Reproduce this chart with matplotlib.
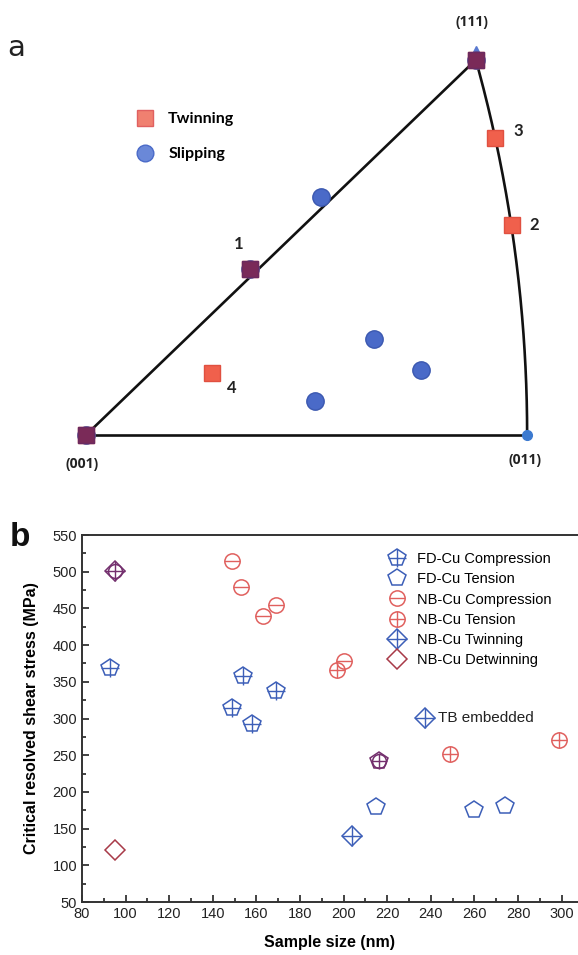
import matplotlib.pyplot as plt
import numpy as np
from matplotlib.ticker import MultipleLocator
from matplotlib.lines import Line2D

# ---- panel a: inverse pole figure (stereographic coords, (001) at origin)
slip_x = [0.000, 0.154, 0.221, 0.270, 0.315, 0.215, 0.366]
slip_y = [0.000, 0.162, 0.232, 0.094, 0.063, 0.033, 0.366]
twin_x = [0.000, 0.154, 0.400, 0.384, 0.118, 0.366]
twin_y = [0.000, 0.162, 0.205, 0.290, 0.060, 0.366]
twin_labels = ['', '1', '2', '3', '4', '']
corner_names = ['(001)', '(011)', '(111)']

# ---- panel b: CRSS vs sample size
fd_comp_x = [93, 149, 154, 158, 169]
fd_comp_y = [369, 314, 358, 293, 337]
fd_ten_x = [215, 260, 274]
fd_ten_y = [180, 175, 181]
nb_comp_x = [149, 153, 163, 169, 200]
nb_comp_y = [514, 479, 440, 454, 378]
nb_ten_x = [197, 249, 299]
nb_ten_y = [366, 251, 271]
nb_twin_x = [204]
nb_twin_y = [140]
nb_detwin_x = [95]
nb_detwin_y = [121]
# points where two series sit on top of each other (drawn purple)
twin_detwin_x = [95]
twin_detwin_y = [501]
comp_ten_x = [216]
comp_ten_y = [242]
tb_x, tb_y = 237.5, 301

BLUE = '#3d5fb8'
RED = '#e0605e'
DRED = '#a83a48'
PURPLE = '#74306e'

W, H = 578, 955
fig = plt.figure(figsize=(W / 100, H / 100), dpi=100)

# ================= panel a =================
axa = fig.add_axes([0, 1 - 480 / H, 1, 480 / H])
axa.set_xlim(-86 / 1065, 492 / 1065)
axa.set_ylim(-45 / 1025, 435 / 1025)
axa.axis('off')

t = np.linspace(0, 1, 200)
lx = t / (np.sqrt(2 * t ** 2 + 1) + 1)
n = np.sqrt(t ** 2 + 2)
cx, cy = 1 / (n + 1), t / (n + 1)
bx = t / (np.sqrt(t ** 2 + 1) + 1)
axa.plot(lx, lx, color='#111111', lw=1.9, zorder=1)
axa.plot(cx, cy, color='#111111', lw=1.9, zorder=1)
axa.plot(bx, np.zeros_like(bx), color='#111111', lw=1.9, zorder=1)

axa.plot(slip_x, slip_y, 'o', ms=12.5, color='#4a6ac8', mec='#3b58b0', zorder=3)
axa.plot([bx[-1]], [0], 'o', ms=7, color='#3c7ad0', zorder=3)
axa.plot([0.366], [0.375], '^', ms=7, color='#5a7ad0', zorder=2)
both = [(x, y) for x, y in zip(twin_x, twin_y) if (x, y) in set(zip(slip_x, slip_y))]
axa.plot(twin_x, twin_y, 's', ms=12, color='#f0604c', mec='#e05040', zorder=4)
axa.plot([p[0] for p in both], [p[1] for p in both], 's', ms=11.5,
         color='#7a2a58', mec='#6a2a60', zorder=5)

fa = 'Lato'
offs = {'1': (-0.011, 0.024), '2': (0.021, 0.0), '3': (0.022, 0.007), '4': (0.019, -0.014)}
for x, y, lab in zip(twin_x, twin_y, twin_labels):
    if lab:
        dx, dy = offs[lab]
        axa.text(x + dx, y + dy, lab, fontsize=12, fontweight='bold', family=fa,
                 ha='center', va='center', color='#222222')

corner_pos = [(-0.004, -0.028), (0.412, -0.024), (0.362, 0.403)]
for (x, y), name in zip(corner_pos, corner_names):
    axa.text(x, y, name, fontsize=10, fontweight='bold', family='Open Sans',
             ha='center', va='center', color='#222222')

leg_a = [Line2D([], [], ls='none', marker='s', ms=12, color='#f08070', mec='#e06060'),
         Line2D([], [], ls='none', marker='o', ms=12, color='#6a88d8', mec='#4a6ac8')]
axa.legend(leg_a, ['Twinning', 'Slipping'], loc='upper left', frameon=False,
           bbox_to_anchor=(121 / W, 1 - 104 / H), bbox_transform=fig.transFigure,
           prop={'family': fa, 'weight': 'bold', 'size': 11.5}, labelspacing=1.3,
           handletextpad=0.45, borderpad=0)

fig.text(16 / W, 1 - 48 / H, 'a', fontsize=21, family='DejaVu Sans',
         ha='center', va='center', color='#222222')

# ================= panel b =================
axb = fig.add_axes([82 / W, 1 - 902 / H, (578 - 82) / W, (902 - 535) / H])
axb.set_xlim(80, 307.5)
axb.set_ylim(50, 550)
fb = 'Liberation Sans'


def plot_series(x, y, shape, ms, inner, color, inner_ms=None):
    h1, = axb.plot(x, y, ls='none', marker=shape, ms=ms, mfc='none', mec=color, mew=1.1)
    hs = [h1]
    if inner:
        h2, = axb.plot(x, y, ls='none', marker=inner, ms=inner_ms or ms, color=color, mew=1.0)
        hs.append(h2)
    return tuple(hs)


h_fdc = plot_series(fd_comp_x, fd_comp_y, 'p', 13, '+', BLUE, 13)
h_fdt = plot_series(fd_ten_x, fd_ten_y, 'p', 13, None, BLUE)
h_nbc = plot_series(nb_comp_x, nb_comp_y, 'o', 11, '_', RED, 11)
h_nbt = plot_series(nb_ten_x, nb_ten_y, 'o', 11, '+', RED, 11)
h_nbw = plot_series(nb_twin_x, nb_twin_y, 'D', 10, '+', BLUE, 14)
h_nbd = plot_series(nb_detwin_x, nb_detwin_y, 'D', 10, None, DRED)
plot_series(twin_detwin_x, twin_detwin_y, 'D', 10, '+', PURPLE, 14)
plot_series(twin_detwin_x, twin_detwin_y, 'o', 10, None, PURPLE)
plot_series(comp_ten_x, comp_ten_y, 'p', 13, '+', PURPLE, 12)
plot_series(comp_ten_x, comp_ten_y, 'o', 10, None, PURPLE)
plot_series([tb_x], [tb_y], 'D', 10, '+', BLUE, 14)
axb.text(tb_x + 6, tb_y, 'TB embedded', fontsize=11, family=fb, va='center', color='#222222')

axb.legend([h_fdc, h_fdt, h_nbc, h_nbt, h_nbw, h_nbd],
           ['FD-Cu Compression', 'FD-Cu Tension', 'NB-Cu Compression',
            'NB-Cu Tension', 'NB-Cu Twinning', 'NB-Cu Detwinning'],
           loc='upper left', bbox_to_anchor=(381 / W, 1 - 545 / H),
           bbox_transform=fig.transFigure, frameon=False, borderpad=0,
           prop={'family': fb, 'size': 10.5}, labelspacing=0.42,
           handlelength=1.2, handletextpad=0.8)

axb.xaxis.set_major_locator(MultipleLocator(20))
axb.xaxis.set_minor_locator(MultipleLocator(10))
axb.yaxis.set_major_locator(MultipleLocator(50))
axb.yaxis.set_minor_locator(MultipleLocator(25))
axb.tick_params(which='both', direction='in', width=1.2, colors='#222222',
                labelsize=10.5, top=False, right=False)
axb.tick_params(which='major', length=5)
axb.tick_params(which='minor', length=3)
for lab in axb.get_xticklabels() + axb.get_yticklabels():
    lab.set_family(fb)
for s in ['left', 'bottom', 'top']:
    axb.spines[s].set_linewidth(1.4)
    axb.spines[s].set_color('#333333')
axb.spines['right'].set_visible(False)

axb.set_xlabel('Sample size (nm)', fontsize=11.5, fontweight='bold', family=fb, labelpad=10)
axb.set_ylabel('Critical resolved shear stress (MPa)', fontsize=11.5,
               fontweight='bold', family=fb, labelpad=10)

fig.text(20 / W, 1 - 537 / H, 'b', fontsize=24, fontweight='bold', family=fb,
         ha='center', va='center', color='#111111')

fig.savefig('out.png', dpi=100)
